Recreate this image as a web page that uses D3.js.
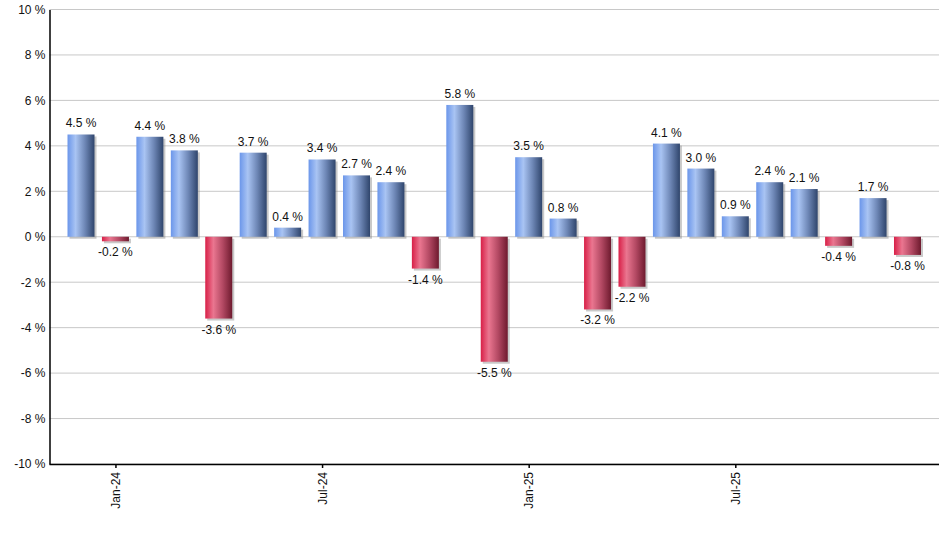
<!DOCTYPE html>
<html><head><meta charset="utf-8">
<script src="https://cdn.jsdelivr.net/npm/d3@7"></script>
<style>body{margin:0;background:#fff;} text{font-family:"Liberation Sans",Arial,sans-serif;}</style>
</head><body>
<svg id="c" width="940" height="550"></svg>
<script>
const months = ["Dec-23","Jan-24","Feb-24","Mar-24","Apr-24","May-24","Jun-24","Jul-24","Aug-24","Sep-24","Oct-24","Nov-24","Dec-24","Jan-25","Feb-25","Mar-25","Apr-25","May-25","Jun-25","Jul-25","Aug-25","Sep-25","Oct-25","Nov-25","Dec-25"];
const values = [4.5,-0.2,4.4,3.8,-3.6,3.7,0.4,3.4,2.7,2.4,-1.4,5.8,-5.5,3.5,0.8,-3.2,-2.2,4.1,3.0,0.9,2.4,2.1,-0.4,1.7,-0.8];
const xTickLabels = ["Jan-24","Jul-24","Jan-25","Jul-25"];
const yTicks = [-10,-8,-6,-4,-2,0,2,4,6,8,10];

const svg = d3.select("#c");
const L = 49.5, R = 939, T = 9.5, B = 464;
const x = d3.scalePoint().domain(months).range([L, R]).padding(0.915);
const y = d3.scaleLinear().domain([-10, 10]).range([B, T]);
const bw = 27;

const defs = svg.append("defs");
function grad(id, stops){
  const g = defs.append("linearGradient").attr("id", id).attr("x1","0%").attr("x2","100%").attr("y1","0%").attr("y2","0%");
  stops.forEach(s => g.append("stop").attr("offset", s[0]).attr("stop-color", s[1]));
}
grad("gBlue", [["0%","#6b96ea"],["30%","#a9c4f3"],["65%","#6d86b5"],["100%","#2f456c"]]);
grad("gRed", [["0%","#d81f47"],["30%","#ea7690"],["65%","#b24862"],["100%","#6e1a2e"]]);

// gridlines
svg.append("g").selectAll("line").data(yTicks).join("line")
  .attr("x1", L).attr("x2", R).attr("y1", d => y(d)).attr("y2", d => y(d))
  .attr("stroke", "#c8c8c8").attr("stroke-width", 1);

// shadows
svg.append("g").selectAll("rect").data(values).join("rect")
  .attr("x", (d,i) => x(months[i]) - bw/2 + 2)
  .attr("y", d => Math.min(y(d), y(0)) + 2)
  .attr("width", bw)
  .attr("height", d => Math.abs(y(d) - y(0)))
  .attr("fill", "#888").attr("opacity", 0.45);

// bars
svg.append("g").selectAll("rect").data(values).join("rect")
  .attr("x", (d,i) => x(months[i]) - bw/2)
  .attr("y", d => Math.min(y(d), y(0)))
  .attr("width", bw)
  .attr("height", d => Math.abs(y(d) - y(0)))
  .attr("fill", d => d >= 0 ? "url(#gBlue)" : "url(#gRed)");

// value labels
svg.append("g").selectAll("text").data(values).join("text")
  .attr("x", (d,i) => x(months[i]))
  .attr("y", d => d >= 0 ? y(d) - 7 : y(d) + 15)
  .attr("text-anchor", "middle")
  .attr("font-size", "12px").attr("fill", "#111")
  .text(d => d.toFixed(1) + " %");

// y axis
const yAxis = d3.axisLeft(y).tickValues(yTicks).tickSize(0).tickPadding(4).tickFormat(d => d + " %");
const gy = svg.append("g").attr("transform", `translate(${L},0)`).call(yAxis);
gy.select(".domain").attr("stroke", "#000").attr("stroke-width", 1.5);
gy.selectAll("text").attr("font-size", "12px").attr("fill", "#111").attr("font-family", "Liberation Sans, Arial, sans-serif");

// x axis
const xAxis = d3.axisBottom(x).tickValues(xTickLabels.map(l => l)).tickSize(4).tickSizeOuter(0);
const gx = svg.append("g").attr("transform", `translate(0,${B})`).call(xAxis);
gx.select(".domain").attr("stroke", "#000").attr("stroke-width", 1.5).attr("d", `M${L},0.5H${R}`);
gx.selectAll(".tick line").attr("stroke", "#000").attr("stroke-width", 1.5);
gx.selectAll("text")
  .attr("font-size", "12px").attr("fill", "#111").attr("font-family", "Liberation Sans, Arial, sans-serif")
  .attr("text-anchor", "end")
  .attr("transform", "rotate(-90)")
  .attr("x", -8).attr("y", 0).attr("dy", "0.35em");
</script>
</body></html>
